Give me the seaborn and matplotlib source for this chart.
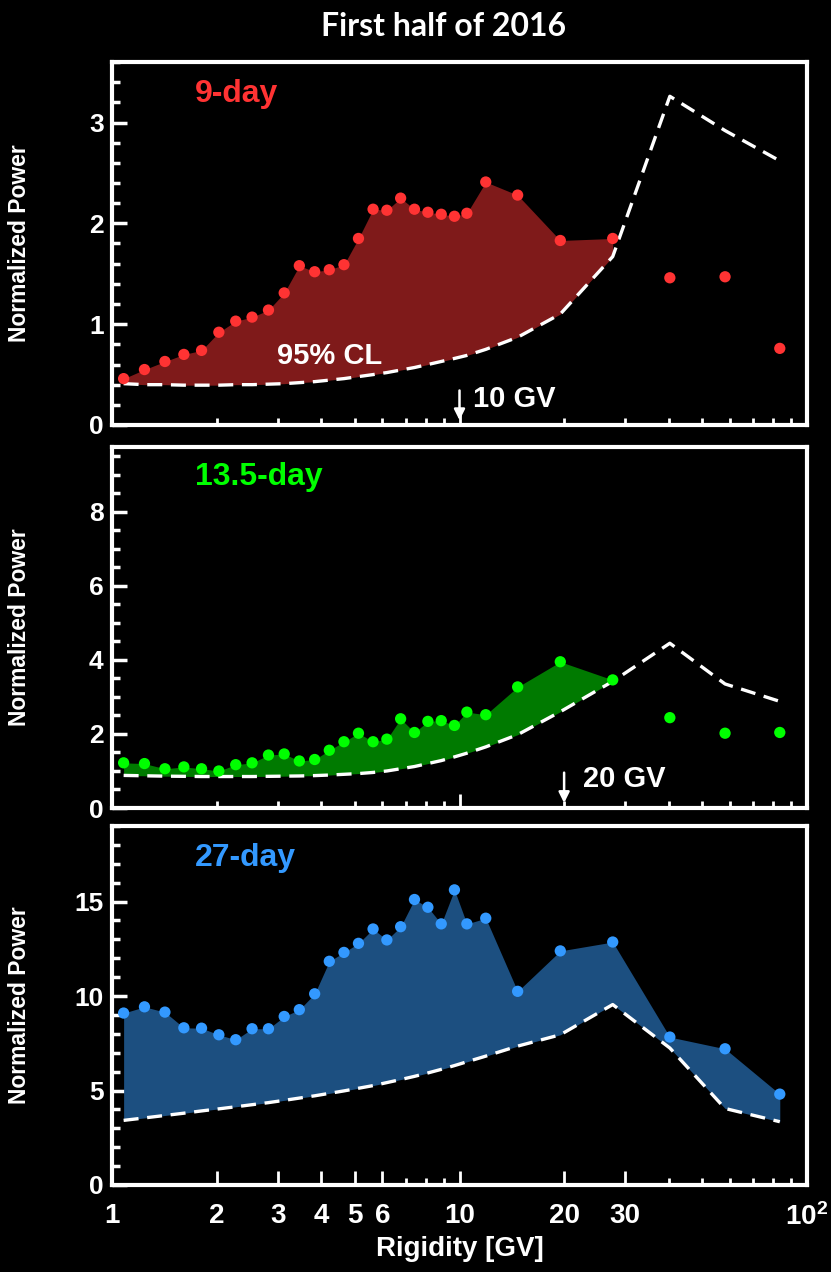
import numpy as np
import pandas as pd
import matplotlib
matplotlib.use("Agg")
import matplotlib.pyplot as plt
from matplotlib import font_manager as fm
from matplotlib.ticker import FixedLocator, NullFormatter, MultipleLocator
import seaborn as sns

# ---------------- data ----------------
rigidity = [1.08, 1.24, 1.42, 1.61, 1.81, 2.03, 2.27, 2.53, 2.82, 3.13,
            3.46, 3.83, 4.22, 4.65, 5.12, 5.64, 6.18, 6.77, 7.42, 8.11,
            8.86, 9.67, 10.5, 11.9, 14.7, 19.5, 27.6, 40.3, 58.1, 83.5]

power_9day = [0.46, 0.55, 0.63, 0.70, 0.74, 0.92, 1.03, 1.07, 1.14, 1.31,
              1.58, 1.52, 1.54, 1.59, 1.85, 2.14, 2.13, 2.25, 2.14, 2.11,
              2.09, 2.07, 2.10, 2.41, 2.28, 1.83, 1.85, 1.46, 1.47, 0.76]
cl_9day = [0.41, 0.40, 0.40, 0.395, 0.395, 0.395, 0.40, 0.40, 0.405, 0.41,
           0.42, 0.43, 0.445, 0.46, 0.48, 0.50, 0.52, 0.545, 0.57, 0.60,
           0.63, 0.66, 0.69, 0.75, 0.87, 1.10, 1.67, 3.26, 2.92, 2.62]

power_13day = [1.22, 1.20, 1.06, 1.11, 1.06, 1.00, 1.17, 1.22, 1.43, 1.46,
               1.27, 1.31, 1.56, 1.79, 2.02, 1.79, 1.86, 2.41, 2.04, 2.34,
               2.36, 2.23, 2.59, 2.52, 3.27, 3.95, 3.46, 2.44, 2.02, 2.04]
cl_13day = [0.88, 0.87, 0.86, 0.855, 0.85, 0.85, 0.85, 0.85, 0.855, 0.86,
            0.865, 0.875, 0.89, 0.91, 0.93, 0.96, 1.00, 1.06, 1.12, 1.20,
            1.28, 1.38, 1.48, 1.65, 1.98, 2.60, 3.42, 4.45, 3.35, 2.88]

power_27day = [9.10, 9.43, 9.15, 8.32, 8.30, 7.95, 7.69, 8.27, 8.27, 8.92,
               9.28, 10.12, 11.84, 12.31, 12.79, 13.55, 12.97, 13.67, 15.11, 14.70,
               13.82, 15.62, 13.82, 14.12, 10.25, 12.39, 12.86, 7.83, 7.21, 4.81]
cl_27day = [3.42, 3.55, 3.68, 3.80, 3.92, 4.03, 4.14, 4.25, 4.36, 4.48,
            4.60, 4.72, 4.85, 4.98, 5.12, 5.26, 5.42, 5.58, 5.75, 5.93,
            6.12, 6.32, 6.52, 6.82, 7.35, 7.95, 9.55, 7.25, 4.05, 3.35]

period_labels = ["9-day", "13.5-day", "27-day"]
x_tick_values = [1, 2, 3, 4, 5, 6, 10, 20, 30, 100]
x_tick_labels = ["1", "2", "3", "4", "5", "6", "10", "20", "30", r"$\mathbf{10^{2}}$"]

# ---------------- style ----------------
sns.set_style("dark", {"axes.facecolor": "black", "figure.facecolor": "black",
                       "axes.edgecolor": "white", "grid.color": "black"})

avail = {f.name for f in fm.fontManager.ttflist}
main_font = "Liberation Sans" if "Liberation Sans" in avail else "DejaVu Sans"
title_font = "Lato" if "Lato" in avail else "Open Sans"

plt.rcParams["font.family"] = [main_font, "DejaVu Sans"]
plt.rcParams["axes.labelweight"] = "bold"
plt.rcParams["mathtext.fontset"] = "custom"
plt.rcParams["mathtext.bf"] = f"{main_font}:bold"
plt.rcParams["mathtext.rm"] = main_font

fig = plt.figure(figsize=(8.31, 12.72), dpi=100)
fig.patch.set_facecolor("black")

W, H = 831, 1272
left_px, right_px = 112, 807
panels = [
    dict(top=62, bot=425, y=power_9day, cl=cl_9day, nfill=27, ylim=3.6,
         major=1, minor=0.2, pt="#ff3333", fill="#7f1a1a", label=period_labels[0], ly=102),
    dict(top=447, bot=808, y=power_13day, cl=cl_13day, nfill=27, ylim=9.75,
         major=2, minor=0.5, pt="#00ff00", fill="#007a00", label=period_labels[1], ly=485),
    dict(top=826, bot=1185, y=power_27day, cl=cl_27day, nfill=30, ylim=19.0,
         major=5, minor=1, pt="#3399ff", fill="#1c4f80", label=period_labels[2], ly=866),
]

axes = []
for i, p in enumerate(panels):
    hpx = p["bot"] - p["top"]
    ax = fig.add_axes([left_px / W, 1 - p["bot"] / H, (right_px - left_px) / W, hpx / H])
    ax.set_facecolor("black")
    df = pd.DataFrame({"R": rigidity, "P": p["y"], "CL": p["cl"]})
    n = p["nfill"]
    ax.fill_between(df["R"][:n], df["CL"][:n], df["P"][:n], color=p["fill"], lw=0, zorder=1)
    sns.lineplot(data=df, x="R", y="CL", ax=ax, color="white", lw=2.4,
                 linestyle=(0, (4.5, 2.6)), zorder=3, sort=False)
    sns.scatterplot(data=df, x="R", y="P", ax=ax, color=p["pt"], s=66,
                    edgecolor="none", zorder=4)
    ax.set_xscale("log")
    ax.set_xlim(1, 100)
    ax.set_ylim(0, p["ylim"])
    ax.grid(False)
    for s in ax.spines.values():
        s.set_color("white")
        s.set_linewidth(3)
    ax.yaxis.set_major_locator(MultipleLocator(p["major"]))
    ax.yaxis.set_minor_locator(MultipleLocator(p["minor"]))
    ax.xaxis.set_major_locator(FixedLocator([1, 10, 100]))
    minors = [k * d for d in (1, 10) for k in range(2, 10)]
    ax.xaxis.set_minor_locator(FixedLocator(minors))
    ax.xaxis.set_minor_formatter(NullFormatter())
    ax.tick_params(axis="both", which="both", direction="in", colors="white",
                   top=False, right=False, bottom=True, left=True)
    ax.tick_params(axis="y", which="major", length=11, width=2.5, labelsize=19, pad=6)
    ax.tick_params(axis="y", which="minor", length=6, width=2.5)
    ax.tick_params(axis="x", which="major", length=10, width=2, labelsize=20, pad=13)
    ax.tick_params(axis="x", which="minor", length=5, width=2)
    for t in ax.get_yticklabels():
        t.set_fontweight("bold")
    ax.set_ylabel("Normalized Power", color="white", fontsize=16.5)
    ax.yaxis.label.set_fontweight("bold")
    ax.yaxis.set_label_coords(-0.1166, 0.5)
    if i < 2:
        ax.set_xticklabels([])
        ax.set_xlabel("")
    else:
        ax.xaxis.set_major_locator(FixedLocator(x_tick_values))
        ax.set_xticklabels(x_tick_labels, fontweight="bold", fontsize=20, color="white")
        ax.set_xlabel("Rigidity [GV]", color="white", fontsize=20)
        ax.xaxis.label.set_fontweight("bold")
        ax.xaxis.set_label_coords(0.5, (p["bot"] - 1236) / hpx)
    ax.text((195 - left_px) / (right_px - left_px), (p["bot"] - p["ly"]) / hpx, p["label"],
            transform=ax.transAxes, color=p["pt"], fontsize=23, fontweight="bold",
            va="baseline", ha="left")
    axes.append(ax)

# annotations
axes[0].text((330 - left_px) / (right_px - left_px), (425 - 364) / 363, "95% CL",
             transform=axes[0].transAxes, color="white",
             fontsize=21, fontweight="bold", ha="center", va="baseline")
axes[0].annotate("", xy=(10, 0.02), xytext=(10, 0.37),
                 arrowprops=dict(arrowstyle="-|>", color="white", lw=1.8,
                                 mutation_scale=16))
axes[0].text(10.9, 0.18, "10 GV", color="white", fontsize=21, fontweight="bold",
             ha="left", va="baseline")
axes[1].annotate("", xy=(20, 0.06), xytext=(20, 1.03),
                 arrowprops=dict(arrowstyle="-|>", color="white", lw=1.8,
                                 mutation_scale=16))
axes[1].text(22.7, 0.57, "20 GV", color="white", fontsize=21, fontweight="bold",
             ha="left", va="baseline")

fig.text(0.534, 1 - 26 / H, "First half of 2016", color="white", fontsize=23,
         fontweight="bold", ha="center", va="center", family=[title_font, "DejaVu Sans"])

fig.savefig("out.png", dpi=100, facecolor="black")
